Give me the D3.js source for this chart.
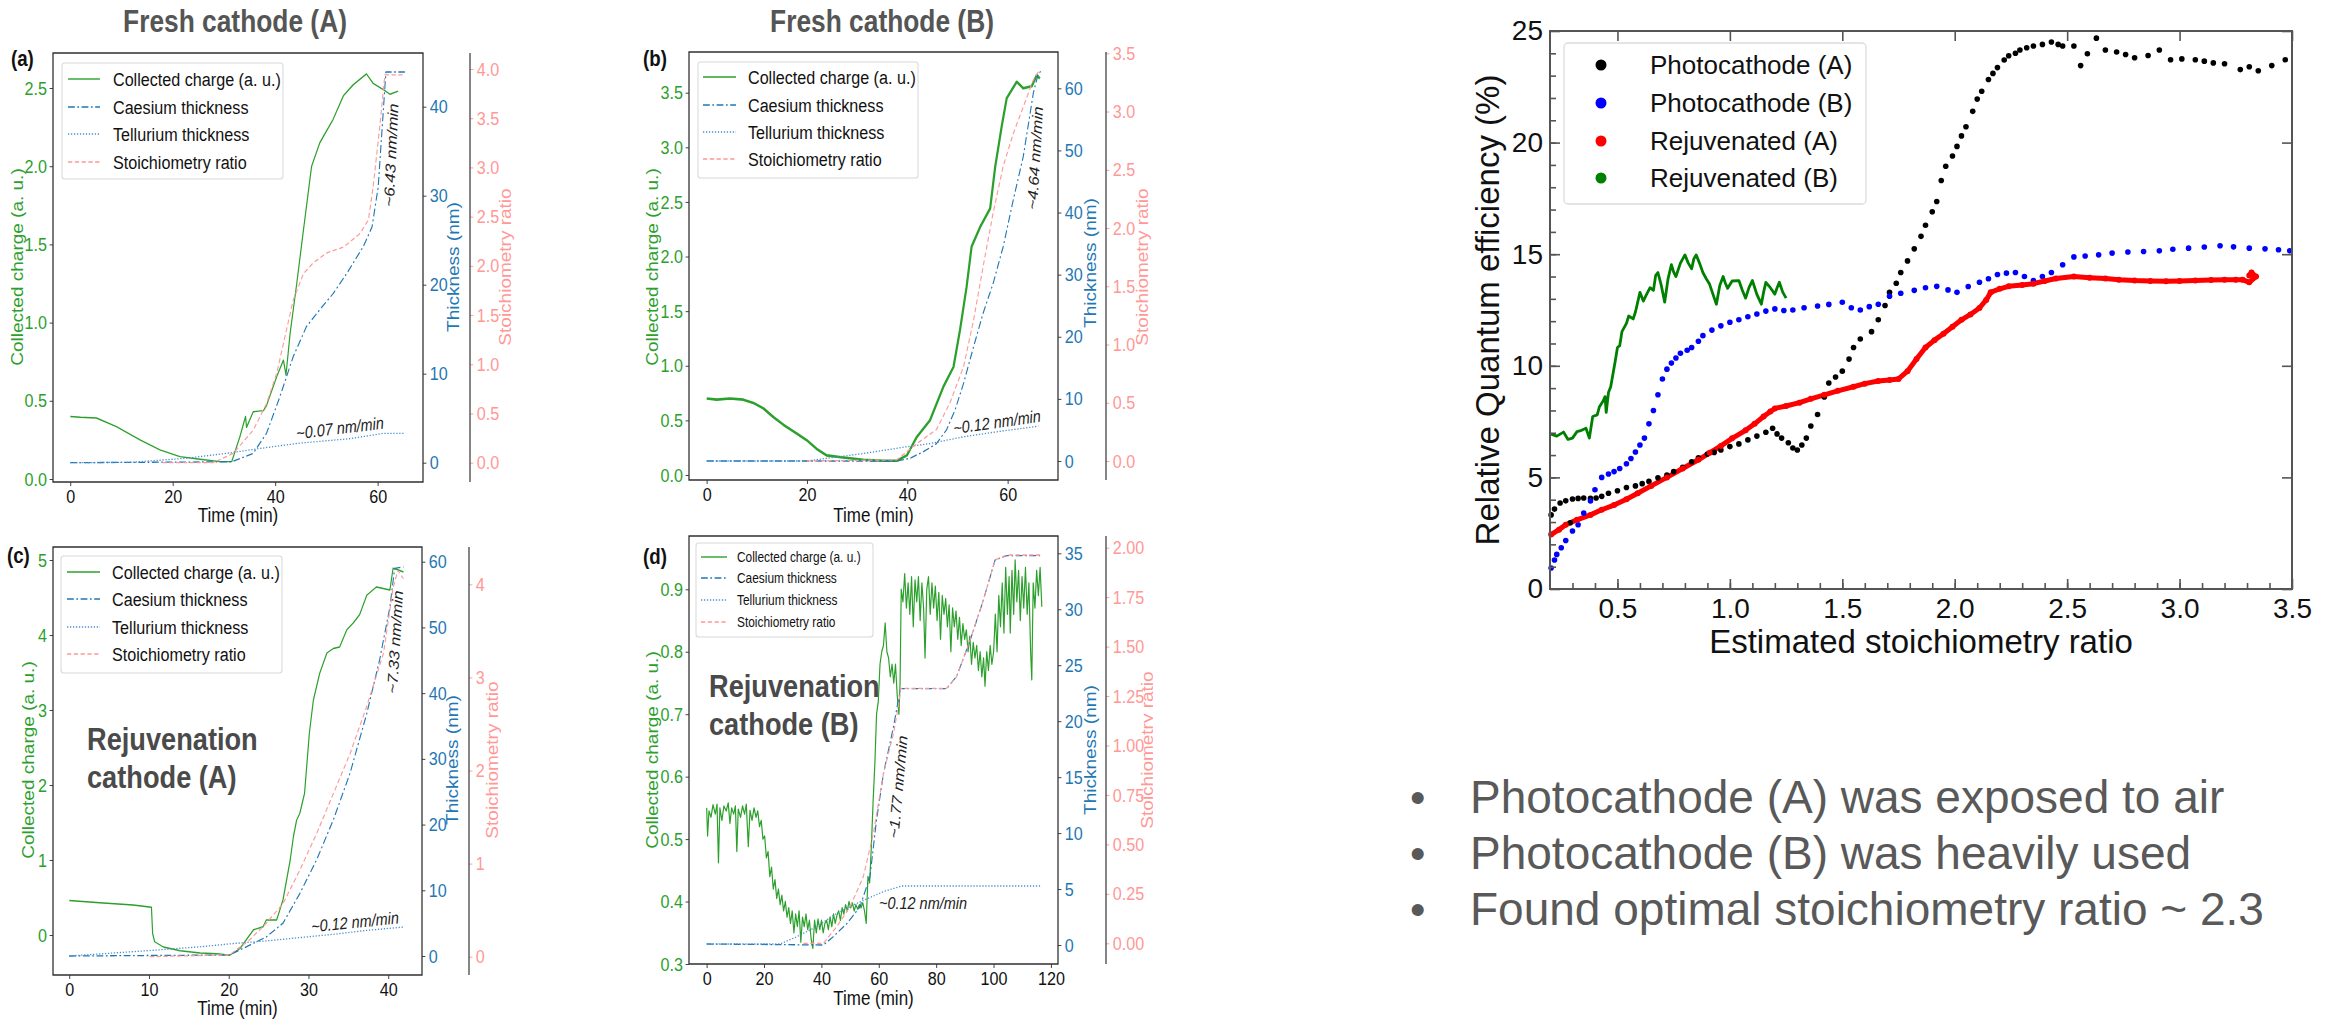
<!DOCTYPE html>
<html>
<head>
<meta charset="utf-8">
<script src="https://cdn.jsdelivr.net/npm/d3@7"></script>
<style>
  body { margin: 0; background: #fff; }
  svg text { font-family: "Liberation Sans", Arial, Helvetica, sans-serif; }
</style>
</head>
<body>
<div id="chart"></div>
<script>
// ---- panel (a) : fresh cathode A, [time (min), value] ----
var chargeA = [[0,0.40],[2,0.395],[5.1,0.39],[9,0.335],[13.6,0.25],[17.5,0.186],[21.4,0.143],[25.3,0.126],[29.2,0.111],[31.5,0.111],[33.1,0.27],[34.2,0.40],[34.4,0.33],[35.7,0.43],[37.7,0.437],[38.3,0.47],[40.3,0.655],[41.6,0.76],[42.1,0.665],[42.9,0.93],[44.2,1.25],[45.5,1.59],[47.1,2.0],[48.7,2.15],[51.3,2.30],[53.3,2.45],[55.2,2.52],[57.8,2.59],[59.1,2.53],[61.1,2.49],[62.4,2.46],[64.0,2.48]];
var caesiumA = [[0,0],[31.5,0.1],[35.7,1.05],[38.3,3.3],[40.9,7.4],[43.5,11.9],[46.1,15.3],[48.7,17.2],[51.3,19.0],[54,21.3],[57.2,24.3],[58.9,26.5],[60.1,31.0],[61.1,39.6],[61.6,43.9],[65.3,43.9]];
var telluriumA = [[0,0],[12,0.05],[22.7,0.5],[30.5,1.05],[37,1.6],[44.8,2.2],[54.6,2.7],[61.1,3.3],[65.3,3.3]];
var ratioA = [[18,0],[27.9,0],[31.8,0.095],[35.7,0.33],[38.3,0.60],[40.3,0.91],[42.2,1.35],[43.5,1.65],[45.5,1.92],[47.4,2.03],[50,2.13],[53.3,2.19],[56.6,2.33],[58.2,2.47],[59.1,2.80],[60.4,3.41],[61.4,3.94],[65.3,3.94]];

// ---- panel (b) : fresh cathode B ----
var chargeB = [[0,0.70],[2,0.69],[4.65,0.70],[7.3,0.69],[9.3,0.66],[11.3,0.61],[13.3,0.53],[15.3,0.46],[17.9,0.38],[19.9,0.32],[21.9,0.24],[23.9,0.18],[27.2,0.16],[31.2,0.14],[35.2,0.13],[37.9,0.13],[39.9,0.18],[41.9,0.35],[44.5,0.50],[47.2,0.81],[49.2,0.99],[50.5,1.33],[51.8,1.72],[52.8,2.09],[54.5,2.27],[56.5,2.44],[57.5,2.82],[58.8,3.19],[59.8,3.45],[61.8,3.60],[63.1,3.54],[64.8,3.56],[65.8,3.66],[66.4,3.63]];
var caesiumB = [[0,0],[37.9,0],[40.5,0.43],[43.2,1.5],[45.8,2.8],[47.8,5.0],[49.5,8.2],[51.2,12.5],[53.2,18.4],[55.1,23.8],[57.1,28.6],[59.1,34.5],[61.1,42.0],[63.1,49.0],[65.1,59.2],[66.1,62.4],[66.6,62.7]];
var telluriumB = [[0,0],[19.9,0],[31.2,1.2],[39.9,2.3],[44.5,2.8],[51.2,3.9],[57.8,4.7],[66.1,5.6]];
var ratioB = [[20,0],[37.9,0.01],[41.9,0.15],[45.8,0.27],[48.5,0.50],[51.2,0.81],[53.2,1.21],[55.1,1.67],[57.1,2.13],[59.1,2.53],[61.1,2.81],[63.1,3.04],[65.1,3.27],[66.1,3.34]];

// ---- panel (c) : rejuvenation cathode A ----
var chargeC = [[0,0.46],[3.8,0.43],[8.0,0.40],[10.3,0.37],[10.45,0.02],[10.7,-0.09],[11.8,-0.16],[13.9,-0.21],[16.4,-0.24],[18.5,-0.25],[20.1,-0.27],[21.4,-0.18],[23.1,0.07],[24.3,0.11],[24.7,0.20],[26.0,0.20],[26.8,0.47],[27.7,1.0],[28.1,1.31],[28.5,1.53],[28.9,1.62],[29.5,1.89],[30.1,2.69],[30.6,3.13],[31.4,3.49],[32.3,3.76],[33.1,3.82],[33.9,3.84],[34.8,4.07],[35.6,4.16],[36.4,4.27],[37.3,4.53],[38.5,4.64],[40.2,4.60],[40.6,4.89],[41.2,4.87],[41.9,4.84]];
var caesiumC = [[0,0],[20.1,0.15],[22.2,1.4],[24.7,2.9],[26.8,5.0],[28.9,9.5],[31.0,14.6],[33.1,20.7],[35.2,27.8],[37.3,36.9],[38.9,45.0],[40.2,53.1],[40.8,59.0],[41.9,59.2]];
var telluriumC = [[0,0],[10.9,0.9],[16.4,1.4],[20.6,1.9],[24.7,2.3],[28.9,2.8],[33.1,3.3],[37.3,3.9],[41.9,4.4]];
var ratioC = [[10.1,0],[20.1,0.02],[22.6,0.18],[24.7,0.36],[26.8,0.57],[28.9,0.93],[31.0,1.32],[33.1,1.75],[35.2,2.18],[37.3,2.69],[39.4,3.26],[40.6,3.96],[41.2,4.15],[41.9,4.06]];

// ---- panel (d) : rejuvenation cathode B (noisy trace, read point by point) ----
var chargeD = [[0,0.55],[0.3,0.505],[0.8,0.545],[1.5,0.535],[2.2,0.555],[3.0,0.54],[3.6,0.556],[4.1,0.462],[4.6,0.55],[5.3,0.53],[6.0,0.553],[6.8,0.545],[7.5,0.558],[8.1,0.525],[8.7,0.55],[9.4,0.54],[10.0,0.553],[10.5,0.48],[11.0,0.548],[11.8,0.535],[12.5,0.553],[13.2,0.54],[13.8,0.556],[14.5,0.488],[15.1,0.546],[15.8,0.53],[16.5,0.55],[17.2,0.535],[17.8,0.545],[18.4,0.52],[19.0,0.53],[19.6,0.50],[20.2,0.505],[20.8,0.47],[21.4,0.48],[22.0,0.44],[22.6,0.455],[23.2,0.42],[23.8,0.435],[24.4,0.405],[25.0,0.42],[25.6,0.395],[26.2,0.41],[26.8,0.385],[27.4,0.40],[28.0,0.375],[28.6,0.39],[29.2,0.365],[29.8,0.385],[30.4,0.35],[31.0,0.38],[31.6,0.36],[32.2,0.385],[32.8,0.335],[33.4,0.375],[34.0,0.36],[34.6,0.38],[35.2,0.355],[35.8,0.37],[36.4,0.34],[37.0,0.325],[37.6,0.37],[38.2,0.35],[38.8,0.372],[39.4,0.355],[40.0,0.37],[40.6,0.35],[41.2,0.365],[41.8,0.37],[42.4,0.355],[43.0,0.375],[43.6,0.36],[44.2,0.38],[44.8,0.365],[45.4,0.378],[46.0,0.385],[46.6,0.37],[47.2,0.39],[47.8,0.38],[48.4,0.395],[49.0,0.385],[49.6,0.40],[50.2,0.39],[50.8,0.398],[51.4,0.385],[52.0,0.395],[52.6,0.388],[53.2,0.395],[53.8,0.39],[54.4,0.398],[55.0,0.385],[55.6,0.365],[56.2,0.44],[56.8,0.43],[57.4,0.49],[58.0,0.56],[58.6,0.62],[59.2,0.70],[59.8,0.72],[60.4,0.78],[61.0,0.80],[61.6,0.81],[62.2,0.846],[62.8,0.80],[63.4,0.79],[64.0,0.76],[64.6,0.78],[65.2,0.75],[65.8,0.78],[66.4,0.73],[67.0,0.70],[67.4,0.75],[67.8,0.90],[68.4,0.88],[69.0,0.925],[69.6,0.87],[70.2,0.91],[70.8,0.86],[71.4,0.92],[72.0,0.84],[72.6,0.915],[73.2,0.88],[73.8,0.92],[74.4,0.85],[75.0,0.91],[75.6,0.87],[76.1,0.79],[76.7,0.90],[77.3,0.92],[77.9,0.86],[78.5,0.91],[79.1,0.87],[79.7,0.905],[80.3,0.85],[80.9,0.895],[81.5,0.82],[82.1,0.89],[82.7,0.86],[83.3,0.885],[83.9,0.84],[84.5,0.875],[85.1,0.80],[85.7,0.87],[86.3,0.84],[86.9,0.865],[87.5,0.82],[88.1,0.855],[88.7,0.81],[89.3,0.845],[89.9,0.82],[90.5,0.835],[91.1,0.80],[91.7,0.825],[92.3,0.78],[92.9,0.815],[93.5,0.79],[94.1,0.81],[94.7,0.77],[95.3,0.80],[95.9,0.76],[96.5,0.79],[97.0,0.745],[97.6,0.80],[98.2,0.77],[98.8,0.81],[99.4,0.78],[100.0,0.80],[100.6,0.86],[101.2,0.80],[101.8,0.89],[102.4,0.84],[103.0,0.91],[103.6,0.83],[104.2,0.935],[104.8,0.86],[105.4,0.92],[105.8,0.83],[106.4,0.93],[107.0,0.86],[107.5,0.947],[108.1,0.88],[108.7,0.93],[109.3,0.85],[109.9,0.92],[110.5,0.87],[111.1,0.935],[111.7,0.86],[112.3,0.91],[112.9,0.80],[113.3,0.755],[113.8,0.91],[114.4,0.87],[115.0,0.93],[115.6,0.89],[116.2,0.935],[116.8,0.872]];
var caesiumD = [[0,0.09],[40.7,0],[44.1,0.74],[48.8,1.9],[53.4,3.4],[56.9,6.1],[59.2,11.2],[61.6,15.3],[65.1,19.5],[66.8,21.9],[67.6,22.9],[77.8,22.9],[83.6,22.9],[87.1,24.0],[91.8,27.2],[96.4,30.8],[100.5,34.4],[104.6,34.8],[116.2,34.8]];
var telluriumD = [[0,0.09],[25.6,0.09],[31.4,0.74],[38.3,1.64],[45.3,2.83],[52.3,3.72],[61.6,4.77],[68.0,5.27],[116.2,5.27]];
var ratioD = [[33.7,0],[40.7,0],[45.3,0.084],[50,0.185],[54.6,0.337],[58.1,0.556],[61.6,0.859],[65.1,1.06],[66.8,1.196],[67.6,1.289],[83.6,1.289],[87.1,1.348],[91.8,1.533],[96.4,1.735],[100.5,1.938],[104.6,1.963],[116.2,1.963]];

// ---- tick values of the four time panels ----
var timeTicksAB = [0, 20, 40, 60];
var timeTicksC = [0, 10, 20, 30, 40];
var timeTicksD = [0, 20, 40, 60, 80, 100, 120];
var chargeTicksA = [0, 0.5, 1.0, 1.5, 2.0, 2.5];
var chargeTicksB = [0, 0.5, 1.0, 1.5, 2.0, 2.5, 3.0, 3.5];
var chargeTicksC = [0, 1, 2, 3, 4, 5];
var chargeTicksD = [0.3, 0.4, 0.5, 0.6, 0.7, 0.8, 0.9];
var thickTicksA = [0, 10, 20, 30, 40];
var thickTicksBC = [0, 10, 20, 30, 40, 50, 60];
var thickTicksD = [0, 5, 10, 15, 20, 25, 30, 35];
var ratioTicksA = [0, 0.5, 1.0, 1.5, 2.0, 2.5, 3.0, 3.5, 4.0];
var ratioTicksB = [0, 0.5, 1.0, 1.5, 2.0, 2.5, 3.0, 3.5];
var ratioTicksC = [0, 1, 2, 3, 4];
var ratioTicksD = [0, 0.25, 0.5, 0.75, 1.0, 1.25, 1.5, 1.75, 2.0];

var legendNames = ["Collected charge (a. u.)", "Caesium thickness", "Tellurium thickness", "Stoichiometry ratio"];

// ---- QE vs stoichiometry, [ratio, QE %] ----
var photoA = [[0.205,3.32],[0.22,3.58],[0.245,3.85],[0.27,3.95],[0.29,2.97],[0.30,4.03],[0.325,4.06],[0.35,4.08],[0.38,4.06],[0.405,4.08],[0.43,4.15],[0.46,4.29],[0.50,4.40],[0.54,4.55],[0.58,4.62],[0.61,4.72],[0.64,4.82],[0.68,4.98],[0.72,5.10],[0.75,5.26],[0.79,5.45],[0.83,5.70],[0.86,5.88],[0.90,6.05],[0.93,6.12],[0.96,6.23],[1.00,6.38],[1.04,6.50],[1.08,6.68],[1.12,6.85],[1.16,7.02],[1.19,7.20],[1.21,6.95],[1.23,6.76],[1.26,6.55],[1.28,6.32],[1.30,6.23],[1.32,6.45],[1.34,6.76],[1.36,7.30],[1.39,7.82],[1.42,8.60],[1.44,9.23],[1.47,9.50],[1.50,9.76],[1.53,10.30],[1.55,10.82],[1.58,11.20],[1.63,11.53],[1.66,12.06],[1.69,12.70],[1.71,13.29],[1.74,13.70],[1.76,14.18],[1.79,14.70],[1.82,15.24],[1.85,15.80],[1.87,16.30],[1.90,16.90],[1.92,17.36],[1.94,18.30],[1.96,18.94],[1.99,19.40],[2.01,19.83],[2.03,20.30],[2.05,20.71],[2.08,21.40],[2.10,21.95],[2.12,22.30],[2.15,22.83],[2.17,23.10],[2.19,23.36],[2.22,23.70],[2.24,23.89],[2.27,24.00],[2.29,24.15],[2.32,24.25],[2.35,24.33],[2.39,24.40],[2.43,24.51],[2.46,24.40],[2.48,24.33],[2.53,24.33],[2.56,23.45],[2.59,23.98],[2.63,24.68],[2.67,24.15],[2.72,24.06],[2.76,23.95],[2.80,23.80],[2.86,23.90],[2.91,24.15],[2.96,23.71],[3.01,23.75],[3.07,23.71],[3.11,23.65],[3.15,23.57],[3.20,23.53],[3.27,23.27],[3.31,23.40],[3.35,23.22],[3.41,23.45],[3.47,23.71]];
var photoB = [[0.205,0.94],[0.22,1.30],[0.23,1.55],[0.25,1.85],[0.27,2.17],[0.30,2.60],[0.325,2.88],[0.35,3.40],[0.38,3.94],[0.40,4.45],[0.43,5.0],[0.46,5.15],[0.485,5.26],[0.51,5.40],[0.54,5.61],[0.56,5.85],[0.58,6.14],[0.60,6.45],[0.62,6.76],[0.64,7.40],[0.66,8.0],[0.68,8.70],[0.70,9.41],[0.72,9.85],[0.74,10.12],[0.76,10.35],[0.78,10.56],[0.81,10.70],[0.83,10.82],[0.86,11.10],[0.88,11.35],[0.92,11.60],[0.96,11.79],[1.00,11.95],[1.04,12.06],[1.08,12.20],[1.12,12.32],[1.16,12.45],[1.20,12.55],[1.24,12.48],[1.28,12.50],[1.33,12.60],[1.39,12.68],[1.44,12.75],[1.50,12.85],[1.54,12.60],[1.58,12.50],[1.62,12.65],[1.66,12.76],[1.71,13.12],[1.76,13.25],[1.82,13.38],[1.87,13.50],[1.92,13.56],[1.97,13.40],[2.01,13.29],[2.06,13.55],[2.11,13.74],[2.15,13.90],[2.19,14.09],[2.23,14.15],[2.27,14.18],[2.31,14.00],[2.35,13.82],[2.39,14.00],[2.43,14.18],[2.48,14.53],[2.53,14.88],[2.58,14.92],[2.64,14.97],[2.70,15.05],[2.77,15.10],[2.84,15.12],[2.91,15.15],[2.97,15.22],[3.04,15.27],[3.11,15.32],[3.18,15.38],[3.24,15.33],[3.31,15.27],[3.38,15.24],[3.44,15.20],[3.49,15.15]];
var rejA = [[0.205,2.44],[0.24,2.66],[0.27,2.88],[0.32,3.10],[0.38,3.32],[0.43,3.55],[0.485,3.76],[0.54,4.02],[0.59,4.29],[0.65,4.62],[0.72,5.0],[0.79,5.40],[0.86,5.79],[0.91,6.10],[0.96,6.41],[1.01,6.75],[1.07,7.11],[1.11,7.40],[1.15,7.73],[1.18,7.95],[1.20,8.09],[1.25,8.20],[1.31,8.35],[1.36,8.52],[1.42,8.70],[1.48,8.88],[1.55,9.06],[1.60,9.20],[1.66,9.32],[1.71,9.36],[1.75,9.41],[1.79,9.76],[1.83,10.30],[1.87,10.82],[1.91,11.15],[1.95,11.44],[1.99,11.75],[2.03,12.06],[2.07,12.30],[2.11,12.59],[2.14,12.95],[2.16,13.29],[2.20,13.45],[2.24,13.56],[2.30,13.62],[2.35,13.68],[2.40,13.80],[2.45,13.91],[2.53,14.0],[2.60,13.95],[2.67,13.91],[2.73,13.86],[2.80,13.82],[2.87,13.80],[2.94,13.79],[3.00,13.80],[3.07,13.82],[3.14,13.84],[3.20,13.86],[3.25,13.86],[3.28,13.86],[3.31,13.74],[3.34,14.0],[3.32,14.18],[3.31,14.05]];
var rejB = [[0.205,6.94],[0.23,6.85],[0.26,7.03],[0.28,6.70],[0.30,6.76],[0.32,7.05],[0.34,7.11],[0.36,7.20],[0.375,6.76],[0.39,7.73],[0.41,7.80],[0.42,8.17],[0.435,8.40],[0.445,8.62],[0.45,7.91],[0.46,8.80],[0.47,9.06],[0.49,10.20],[0.50,10.82],[0.51,10.90],[0.52,11.53],[0.54,11.90],[0.55,12.23],[0.57,12.10],[0.58,12.41],[0.60,13.29],[0.615,12.90],[0.63,13.21],[0.645,13.50],[0.66,13.38],[0.67,14.05],[0.68,14.18],[0.695,13.60],[0.71,12.85],[0.725,13.90],[0.74,14.53],[0.75,14.20],[0.76,14.0],[0.78,14.60],[0.80,14.97],[0.815,14.60],[0.83,14.35],[0.84,14.80],[0.85,14.97],[0.865,14.60],[0.88,14.18],[0.895,13.90],[0.91,13.65],[0.925,13.20],[0.94,12.76],[0.955,13.60],[0.97,14.0],[0.98,13.70],[0.99,13.47],[1.01,13.80],[1.04,13.82],[1.055,13.40],[1.07,13.03],[1.085,13.50],[1.10,13.82],[1.12,13.20],[1.14,12.76],[1.15,13.30],[1.16,13.74],[1.18,13.50],[1.20,13.21],[1.21,13.50],[1.22,13.74],[1.235,13.30],[1.25,13.03]];
var qeXTicks = [0.5, 1.0, 1.5, 2.0, 2.5, 3.0, 3.5];
var qeYTicks = [0, 5, 10, 15, 20, 25];
var qeNames = ["Photocathode (A)", "Photocathode (B)", "Rejuvenated (A)", "Rejuvenated (B)"];
var qeColors = ["#000000", "#0000ff", "#ff0000", "#008000"];

var bullets = ["Photocathode (A) was exposed to air", "Photocathode (B) was heavily used", "Found optimal stoichiometry ratio ~ 2.3"];

var svgWidth = 2335;
var svgHeight = 1020;

// the four pasted panels on the left look squeezed sideways, so they are drawn in a scaled group
var SX = 0.85;
function L(px) { return px / SX; }

var svg = d3.select("#chart")
  .append("svg")
  .attr("width", svgWidth)
  .attr("height", svgHeight);

var green = "#2ca02c";
var blue = "#1f77b4";
var pink = "#ff9896";

var panels = [
  { box: [53, 423, 53, 482], xDom: [0, 60], xPix: [70.3, 377.7], cDom: [0, 2.5], cPix: [479, 88],
    tDom: [0, 40], tPix: [462.7, 106.7], rDom: [0, 4], rPix: [462.7, 69], spine: 470,
    series: [chargeA, caesiumA, telluriumA, ratioA], chargeW: 1.4,
    xTicks: timeTicksAB, cTicks: chargeTicksA, tTicks: thickTicksA, rTicks: ratioTicksA, cFmt: ".1f", rFmt: ".1f",
    legend: { box: [62, 63, 283, 179], rows: [79, 107, 134, 162], line: [68, 100], tx: 113, fs: 19 },
    notes: [{ t: "~0.07 nm/min", x: 340, y: 428, r: -6 }, { t: "~6.43 nm/min", x: 391, y: 155, r: -87 }],
    letter: { t: "(a)", x: 11, y: 66 }, tickY: 503, timeY: 522,
    labels: { c: [17, 267], t: [453, 267], r: [505, 267] } },
  { box: [689, 1058, 52, 480], xDom: [0, 60], xPix: [706.7, 1007.7], cDom: [0, 3.5], cPix: [475, 92.7],
    tDom: [0, 60], tPix: [461, 88.3], rDom: [0, 3.5], rPix: [461, 53.3], spine: 1106,
    series: [chargeB, caesiumB, telluriumB, ratioB], chargeW: 2.6,
    xTicks: timeTicksAB, cTicks: chargeTicksB, tTicks: thickTicksBC, rTicks: ratioTicksB, cFmt: ".1f", rFmt: ".1f",
    legend: { box: [698, 62, 918, 178], rows: [77, 105, 132, 159], line: [703, 736], tx: 748, fs: 19 },
    notes: [{ t: "~0.12 nm/min", x: 997, y: 422, r: -7 }, { t: "~4.64 nm/min", x: 1035, y: 158, r: -86 }],
    letter: { t: "(b)", x: 643, y: 66 }, tickY: 501, timeY: 522,
    labels: { c: [652, 267], t: [1090, 263], r: [1142, 267] } },
  { box: [53, 422, 547, 975], xDom: [0, 40], xPix: [69.3, 388.3], cDom: [0, 5], cPix: [935, 560],
    tDom: [0, 60], tPix: [956, 561.7], rDom: [0, 4], rPix: [956.7, 584.3], spine: 469,
    series: [chargeC, caesiumC, telluriumC, ratioC], chargeW: 1.4,
    xTicks: timeTicksC, cTicks: chargeTicksC, tTicks: thickTicksBC, rTicks: ratioTicksC, cFmt: "d", rFmt: "d",
    legend: { box: [61, 556, 282, 673], rows: [572, 599, 627, 654], line: [67, 100], tx: 112, fs: 19 },
    notes: [{ t: "~0.12 nm/min", x: 355, y: 922, r: -5 }, { t: "~7.33 nm/min", x: 395, y: 642, r: -86 }],
    letter: { t: "(c)", x: 7, y: 563 }, tickY: 995, timeY: 1015,
    big: { t: ["Rejuvenation", "cathode (A)"], x: 87, y: [750, 788] },
    labels: { c: [28, 760], t: [452, 760], r: [492, 760] } },
  { box: [689, 1058, 536, 964], xDom: [0, 120], xPix: [706.7, 1051], cDom: [0.3, 0.9], cPix: [964, 589.3],
    tDom: [0, 35], tPix: [945, 553.3], rDom: [0, 2], rPix: [943.3, 547.7], spine: 1106,
    series: [chargeD, caesiumD, telluriumD, ratioD], chargeW: 1.4, clip: 1153,
    xTicks: timeTicksD, cTicks: chargeTicksD, tTicks: thickTicksD, rTicks: ratioTicksD, cFmt: ".1f", rFmt: ".2f",
    legend: { box: [696, 543, 873, 637], rows: [557, 578, 600, 622], line: [701, 727], tx: 737, fs: 14 },
    notes: [{ t: "~0.12 nm/min", x: 923, y: 903, r: 0 }, { t: "~1.77 nm/min", x: 898, y: 787, r: -84 }],
    letter: { t: "(d)", x: 643, y: 564 }, tickY: 985, timeY: 1005,
    big: { t: ["Rejuvenation", "cathode (B)"], x: 709, y: [697, 735] },
    labels: { c: [652, 750], t: [1090, 750], r: [1147, 750] } }
];

var styles = [
  { color: green, dash: null },
  { color: blue, dash: "8,3,2,3" },
  { color: "#4a90d0", dash: "1.5,2" },
  { color: pink, dash: "5,3" }
];

function styleTicks(axisG, color, fs) {
  axisG.select(".domain").remove();
  axisG.selectAll(".tick line").attr("stroke", "#333");
  axisG.selectAll(".tick text")
    .attr("fill", color)
    .attr("font-size", fs)
    .attr("font-family", "Liberation Sans, Arial, sans-serif");
}

function drawPanel(p, i) {
  var g = svg.append("g").attr("transform", `scale(${SX},1)`);

  if (p.clip) {
    svg.append("clipPath").attr("id", "clip" + i)
      .append("rect").attr("x", L(600)).attr("y", 0).attr("width", L(p.clip) - L(600)).attr("height", svgHeight);
    g.attr("clip-path", `url(#clip${i})`);
  }

  var x = d3.scaleLinear().domain(p.xDom).range([L(p.xPix[0]), L(p.xPix[1])]);
  var yC = d3.scaleLinear().domain(p.cDom).range(p.cPix);
  var yT = d3.scaleLinear().domain(p.tDom).range(p.tPix);
  var yR = d3.scaleLinear().domain(p.rDom).range(p.rPix);
  var yScales = [yC, yT, yT, yR];

  var left = L(p.box[0]), right = L(p.box[1]), top = p.box[2], bottom = p.box[3];

  // curves
  p.series.forEach(function(data, k) {
    var line = d3.line().x(d => x(d[0])).y(d => yScales[k](d[1]));
    g.append("path")
      .datum(data)
      .attr("d", line)
      .attr("fill", "none")
      .attr("stroke", styles[k].color)
      .attr("stroke-width", k === 0 ? p.chargeW : 1.3)
      .attr("stroke-dasharray", styles[k].dash)
      .attr("stroke-linejoin", "round");
  });

  // frame
  g.append("rect")
    .attr("x", left).attr("y", top)
    .attr("width", right - left).attr("height", bottom - top)
    .attr("fill", "none").attr("stroke", "#222").attr("stroke-width", 1.4);

  // axes
  var xAxis = g.append("g").attr("transform", `translate(0, ${bottom})`)
    .call(d3.axisBottom(x).tickValues(p.xTicks).tickSize(4).tickPadding(4).tickFormat(d3.format("d")));
  styleTicks(xAxis, "#111", 19);

  var cAxis = g.append("g").attr("transform", `translate(${left}, 0)`)
    .call(d3.axisLeft(yC).tickValues(p.cTicks).tickSize(4).tickPadding(3).tickFormat(d3.format(p.cFmt)));
  styleTicks(cAxis, green, 19);

  var tAxis = g.append("g").attr("transform", `translate(${right}, 0)`)
    .call(d3.axisRight(yT).tickValues(p.tTicks).tickSize(4).tickPadding(4).tickFormat(d3.format("d")));
  styleTicks(tAxis, blue, 19);

  var rAxis = g.append("g").attr("transform", `translate(${L(p.spine)}, 0)`)
    .call(d3.axisRight(yR).tickValues(p.rTicks).tickSize(4).tickPadding(4).tickFormat(d3.format(p.rFmt)));
  styleTicks(rAxis, pink, 19);
  rAxis.selectAll(".tick line").attr("stroke", pink);
  g.append("line")
    .attr("x1", L(p.spine)).attr("x2", L(p.spine))
    .attr("y1", top).attr("y2", bottom)
    .attr("stroke", "#333").attr("stroke-width", 1.4);

  // axis titles
  g.append("text")
    .attr("x", (left + right) / 2).attr("y", p.timeY)
    .attr("text-anchor", "middle").attr("font-size", 20).attr("fill", "#111")
    .text("Time (min)");

  var titles = [["Collected charge (a. u.)", p.labels.c, green], ["Thickness (nm)", p.labels.t, blue], ["Stoichiometry ratio", p.labels.r, pink]];
  titles.forEach(function(t) {
    g.append("text")
      .attr("transform", `translate(${L(t[1][0])}, ${t[1][1]}) rotate(-90)`)
      .attr("text-anchor", "middle").attr("dy", "0.35em")
      .attr("font-size", 19).attr("fill", t[2])
      .text(t[0]);
  });

  // legend
  var lg = p.legend;
  g.append("rect")
    .attr("x", L(lg.box[0])).attr("y", lg.box[1])
    .attr("width", L(lg.box[2]) - L(lg.box[0])).attr("height", lg.box[3] - lg.box[1])
    .attr("rx", 3).attr("fill", "#fff").attr("fill-opacity", 0.85)
    .attr("stroke", "#d8d8d8").attr("stroke-width", 1.2);
  legendNames.forEach(function(name, k) {
    g.append("line")
      .attr("x1", L(lg.line[0])).attr("x2", L(lg.line[1]))
      .attr("y1", lg.rows[k]).attr("y2", lg.rows[k])
      .attr("stroke", styles[k].color).attr("stroke-width", 1.4)
      .attr("stroke-dasharray", styles[k].dash);
    g.append("text")
      .attr("x", L(lg.tx)).attr("y", lg.rows[k]).attr("dy", "0.35em")
      .attr("font-size", lg.fs).attr("fill", "#111")
      .text(name);
  });

  // rate annotations
  p.notes.forEach(function(n) {
    g.append("text")
      .attr("transform", `translate(${L(n.x)}, ${n.y}) rotate(${n.r})`)
      .attr("text-anchor", "middle").attr("dy", "0.35em")
      .attr("font-size", 17).attr("font-style", "italic").attr("fill", "#222")
      .text(n.t);
  });

  g.append("text")
    .attr("x", L(p.letter.x)).attr("y", p.letter.y)
    .attr("font-size", 22).attr("font-weight", "bold").attr("fill", "#111")
    .text(p.letter.t);

  if (p.big) {
    p.big.t.forEach(function(s, k) {
      g.append("text")
        .attr("x", L(p.big.x)).attr("y", p.big.y[k])
        .attr("font-size", 32).attr("font-weight", "bold").attr("fill", "#4a4a4a")
        .text(s);
    });
  }
}

panels.forEach(drawPanel);

// column titles
var heads = svg.append("g").attr("transform", `scale(${SX},1)`);
[["Fresh cathode (A)", 235], ["Fresh cathode (B)", 882]].forEach(function(h) {
  heads.append("text")
    .attr("x", L(h[1])).attr("y", 32)
    .attr("text-anchor", "middle")
    .attr("font-size", 31).attr("font-weight", "bold").attr("fill", "#555")
    .text(h[0]);
});

// ---- QE vs stoichiometry ratio ----
var qx = d3.scaleLinear().domain([0.2, 3.5]).range([1550, 2292]);
var qy = d3.scaleLinear().domain([0, 25]).range([589, 31]);
var qg = svg.append("g");

// red band reads as a continuous thick stroke of dots
qg.append("path").datum(rejA)
  .attr("d", d3.line().x(d => qx(d[0])).y(d => qy(d[1])))
  .attr("fill", "none").attr("stroke", "#ff0000").attr("stroke-width", 5).attr("stroke-linejoin", "round");

[photoA, photoB, rejA].forEach(function(data, k) {
  qg.selectAll(".dot" + k)
    .data(data).enter()
    .append("circle")
    .attr("class", "dot" + k)
    .attr("cx", d => qx(d[0]))
    .attr("cy", d => qy(d[1]))
    .attr("r", k === 2 ? 3 : 2.8)
    .attr("fill", qeColors[k]);
});

qg.append("path").datum(rejB)
  .attr("d", d3.line().x(d => qx(d[0])).y(d => qy(d[1])))
  .attr("fill", "none").attr("stroke", "#008000").attr("stroke-width", 2.8).attr("stroke-linejoin", "round");

// frame and ticks, all pointing inwards
var frameColor = "#555";
qg.append("rect")
  .attr("x", qx(0.2)).attr("y", qy(25))
  .attr("width", qx(3.5) - qx(0.2)).attr("height", qy(0) - qy(25))
  .attr("fill", "none").attr("stroke", frameColor).attr("stroke-width", 2);

var qBottom = qg.append("g").attr("transform", `translate(0, ${qy(0)})`)
  .call(d3.axisBottom(qx).tickValues(qeXTicks).tickSize(-10).tickPadding(9).tickFormat(d3.format(".1f")));
var qBottomMinor = qg.append("g").attr("transform", `translate(0, ${qy(0)})`)
  .call(d3.axisBottom(qx).tickValues(d3.range(3, 35).map(v => v / 10)).tickSize(-6).tickFormat(""));
var qLeft = qg.append("g").attr("transform", `translate(${qx(0.2)}, 0)`)
  .call(d3.axisLeft(qy).tickValues(qeYTicks).tickSize(-10).tickPadding(7).tickFormat(d3.format("d")));
var qLeftMinor = qg.append("g").attr("transform", `translate(${qx(0.2)}, 0)`)
  .call(d3.axisLeft(qy).tickValues(d3.range(1, 25)).tickSize(-6).tickFormat(""));
var qTop = qg.append("g").attr("transform", `translate(0, ${qy(25)})`)
  .call(d3.axisTop(qx).tickValues(qeXTicks).tickSize(-10).tickFormat(""));
var qRight = qg.append("g").attr("transform", `translate(${qx(3.5)}, 0)`)
  .call(d3.axisRight(qy).tickValues(qeYTicks).tickSize(-10).tickFormat(""));

[qBottom, qBottomMinor, qLeft, qLeftMinor, qTop, qRight].forEach(function(a) {
  a.select(".domain").remove();
  a.selectAll(".tick line").attr("stroke", frameColor).attr("stroke-width", 1.6);
  a.selectAll(".tick text").attr("font-size", 28).attr("fill", "#111")
    .attr("font-family", "Liberation Sans, Arial, sans-serif");
});

qg.append("text")
  .attr("x", (qx(0.2) + qx(3.5)) / 2).attr("y", 653)
  .attr("text-anchor", "middle").attr("font-size", 33).attr("fill", "#111")
  .text("Estimated stoichiometry ratio");

qg.append("text")
  .attr("transform", `translate(1487, ${(qy(0) + qy(25)) / 2}) rotate(-90)`)
  .attr("text-anchor", "middle").attr("dy", "0.35em")
  .attr("font-size", 33).attr("fill", "#111")
  .text("Relative Quantum efficiency (%)");

// legend
var qLegendRows = [65, 103, 141, 178];
qg.append("rect")
  .attr("x", 1564).attr("y", 43).attr("width", 302).attr("height", 161)
  .attr("rx", 4).attr("fill", "#fff").attr("stroke", "#dcdcdc").attr("stroke-width", 1.3);
qeNames.forEach(function(name, k) {
  qg.append("circle")
    .attr("cx", 1601).attr("cy", qLegendRows[k]).attr("r", 5.5)
    .attr("fill", qeColors[k]);
  qg.append("text")
    .attr("x", 1650).attr("y", qLegendRows[k]).attr("dy", "0.35em")
    .attr("font-size", 26).attr("fill", "#111")
    .text(name);
});

// ---- notes under the plot ----
var bulletRows = [813, 869, 925];
bullets.forEach(function(s, k) {
  svg.append("text")
    .attr("x", 1410).attr("y", bulletRows[k])
    .attr("font-size", 44).attr("fill", "#595959")
    .text("\u2022");
  svg.append("text")
    .attr("x", 1470).attr("y", bulletRows[k])
    .attr("font-size", 46).attr("fill", "#595959")
    .text(s);
});
</script>
</body>
</html>
